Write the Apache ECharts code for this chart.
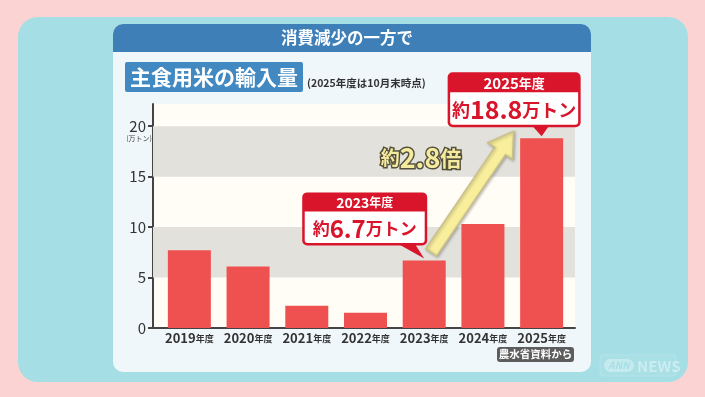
<!DOCTYPE html>
<html><head><meta charset="utf-8">
<script src="https://cdn.jsdelivr.net/npm/echarts@6/dist/echarts.min.js"></script>
<style>html,body{margin:0;padding:0;background:#fcd3d3;}#c{width:705px;height:397px;}</style>
</head><body><div id="c"></div>
<script>
const categories = ['2019','2020','2021','2022','2023','2024','2025'];
const values = [7.7, 6.1, 2.2, 1.5, 6.7, 10.3, 18.8];
const yTicks = [0, 5, 10, 15, 20];
const bands = [[5, 10], [15, 20]];
const headerTitle = '消費減少の一方で';
const chartTitle = '主食用米の輸入量';
const subTitle = '(2025年度は10月末時点)';
const unitLabel = '(万トン)';
const sourceText = '農水省資料から';
const callouts = [
  {year: '2023', value: 6.7, head: '2023年度', num: '6.7'},
  {year: '2025', value: 18.8, head: '2025年度', num: '18.8'}
];
const ratioText = '2.8';

const FONT = '"Noto Sans CJK JP","Noto Sans",sans-serif';
const YMAX = 22.2;
const chart = echarts.init(document.getElementById('c'), null, {renderer: 'canvas'});

const baseGraphic = [
  {type: 'rect', z: -10, shape: {x: 0, y: 0, width: 705, height: 397}, style: {fill: '#fcd3d3'}},
  {type: 'rect', z: -9, shape: {x: 18, y: 17, width: 670, height: 365, r: 20}, style: {fill: '#a5dfe5'}},
  {type: 'rect', z: -8, shape: {x: 113, y: 24, width: 478, height: 348, r: 10}, style: {fill: '#eff7fa'}},
  {type: 'rect', z: -7, shape: {x: 113, y: 24, width: 478, height: 28, r: [10, 10, 0, 0]}, style: {fill: '#3e7fb8'}},
  {type: 'text', z: -6, style: {x: 347, y: 38, text: headerTitle, fill: '#fff', font: 'bold 16.5px ' + FONT, align: 'center', verticalAlign: 'middle'}},
  {type: 'rect', z: -6, shape: {x: 125, y: 62, width: 178, height: 30, r: 2}, style: {fill: '#4289c2'}},
  {type: 'text', z: -5, style: {x: 214, y: 77, text: chartTitle, fill: '#fff', font: 'bold 21px ' + FONT, align: 'center', verticalAlign: 'middle'}},
  {type: 'text', z: -5, style: {x: 307, y: 83, text: subTitle, fill: '#333', font: 'bold 10.5px ' + FONT, align: 'left', verticalAlign: 'middle'}},
  {type: 'text', z: 5, style: {x: 139, y: 138, text: unitLabel, fill: '#444', font: '7px ' + FONT, align: 'center', verticalAlign: 'middle'}},
  {type: 'rect', z: 5, shape: {x: 497, y: 347, width: 77, height: 15, r: 3}, style: {fill: '#5d5d5d'}},
  {type: 'text', z: 6, style: {x: 535.5, y: 354.5, text: sourceText, fill: '#fff', font: 'bold 10.5px ' + FONT, align: 'center', verticalAlign: 'middle'}},
  {type: 'rect', z: 5, shape: {x: 600, y: 355, width: 76, height: 21, r: 4}, style: {fill: 'rgba(255,255,255,0.04)', stroke: 'rgba(255,255,255,0.18)', lineWidth: 1}},
  {type: 'rect', z: 5, shape: {x: 604, y: 359, width: 30, height: 13, r: 6.5}, style: {fill: 'rgba(255,255,255,0.35)'}},
  {type: 'text', z: 6, style: {x: 619, y: 365.5, text: 'ANN', fill: '#a5dfe5', font: 'italic bold 10px ' + FONT, align: 'center', verticalAlign: 'middle'}},
  {type: 'text', z: 6, style: {x: 637, y: 366, text: 'NEWS', fill: 'rgba(255,255,255,0.4)', font: 'bold 15px ' + FONT, align: 'left', verticalAlign: 'middle'}}
];

const option = {
  animation: false,
  backgroundColor: 'transparent',
  grid: [
    {left: 160, right: 134, top: 104, bottom: 69},
    {left: 153, right: 130, top: 104, bottom: 69, show: true, backgroundColor: '#fffdf5', borderWidth: 0}
  ],
  xAxis: [
    {
      type: 'category', data: categories, gridIndex: 0,
      axisLine: {show: false}, axisTick: {show: false},
      axisLabel: {
        interval: 0, margin: 4,
        formatter: v => '{a|' + v + '}{b|年度}',
        rich: {
          a: {fontSize: 13, fontWeight: 'bold', color: '#333', fontFamily: FONT},
          b: {fontSize: 9, fontWeight: 'bold', color: '#333', fontFamily: FONT}
        }
      }
    },
    {
      type: 'value', gridIndex: 1, min: 0, max: 1,
      axisLine: {show: true, onZero: false, lineStyle: {color: '#444', width: 2}},
      axisTick: {show: false}, axisLabel: {show: false}, splitLine: {show: false}
    }
  ],
  yAxis: [
    {type: 'value', gridIndex: 0, min: 0, max: YMAX, show: false, splitLine: {show: false}},
    {
      type: 'value', gridIndex: 1, min: 0, max: YMAX,
      splitLine: {show: false},
      axisLine: {show: true, lineStyle: {color: '#444', width: 2}},
      axisTick: {show: true, length: 5, lineStyle: {color: '#444', width: 2}, customValues: yTicks},
      axisLabel: {customValues: yTicks, margin: 7, fontSize: 15, color: '#333', fontFamily: FONT}
    }
  ],
  series: [
    {type: 'line', data: [], xAxisIndex: 1, yAxisIndex: 1, z: 1, silent: true,
      markArea: {silent: true, itemStyle: {color: '#e2e1dc'},
        data: bands.map(b => [{yAxis: b[0]}, {yAxis: b[1]}])}},
    {type: 'bar', data: values, xAxisIndex: 0, yAxisIndex: 0, barWidth: 43, z: 3, itemStyle: {color: '#ef5150'}}
  ],
  graphic: baseGraphic
};
chart.setOption(option);

function calloutGraphic(c, dx, dy, w, h, headH, tipOffX) {
  const tip = chart.convertToPixel({xAxisIndex: 0, yAxisIndex: 0}, [c.year, c.value]);
  const tx = tip[0], ty = tip[1] - 2;
  const left = tx + dx, top = ty + dy;
  const bx = left + w + tipOffX;
  const red = '#d8152b';
  const big = h > 54;
  return [
    {type: 'polygon', z: 20, shape: {points: [[bx - 8, top + h - 1], [bx + 8, top + h - 1], [tx, ty]]}, style: {fill: red}},
    {type: 'rect', z: 21, shape: {x: left, y: top, width: w, height: h, r: 5}, style: {fill: red}},
    {type: 'rect', z: 22, shape: {x: left + 2.5, y: top + headH, width: w - 5, height: h - headH - 2.5, r: [0, 0, 3, 3]}, style: {fill: '#fff'}},
    {type: 'text', z: 23, style: {x: left + w / 2, y: top + headH / 2 + 0.5, text: '{n|' + c.head.slice(0, 4) + '}{k|年度}', align: 'center', verticalAlign: 'middle',
      rich: {n: {fontSize: big ? 15 : 14, fontWeight: 'bold', fill: '#fff', fontFamily: FONT}, k: {fontSize: big ? 13 : 12, fontWeight: 'bold', fill: '#fff', fontFamily: FONT}}}},
    {type: 'text', z: 23, style: {x: left + w / 2, y: top + headH + (h - headH) / 2, text: '{s|約}{b|' + c.num + '}{s|万トン}', align: 'center', verticalAlign: 'middle',
      rich: {s: {fontSize: big ? 18 : 17, fontWeight: 'bold', fill: red, fontFamily: FONT}, b: {fontSize: big ? 25 : 24, fontWeight: 'bold', fill: red, fontFamily: FONT}}}}
  ];
}

const g2023 = calloutGraphic(callouts[0], -122, -66, 125, 53, 19, -20);
const g2025 = calloutGraphic(callouts[1], -94, -64, 133, 55, 20, -40);

const p23 = chart.convertToPixel({xAxisIndex: 0, yAxisIndex: 0}, ['2023', 6.7]);
const p25 = chart.convertToPixel({xAxisIndex: 0, yAxisIndex: 0}, ['2025', 18.8]);
const A = [p23[0] + 7, p23[1] - 8], B = [p25[0] - 28, p25[1] - 7];
const vx = B[0] - A[0], vy = B[1] - A[1], L = Math.hypot(vx, vy);
const ux = vx / L, uy = vy / L, nx = -uy, ny = ux;
const sw = 6.5, hw = 15, hl = 24;
const H = [B[0] - ux * hl, B[1] - uy * hl];
const arrowPts = [
  [A[0] + nx * sw, A[1] + ny * sw], [H[0] + nx * sw, H[1] + ny * sw], [H[0] + nx * hw, H[1] + ny * hw], B,
  [H[0] - nx * hw, H[1] - ny * hw], [H[0] - nx * sw, H[1] - ny * sw], [A[0] - nx * sw, A[1] - ny * sw]
];
const arrow = {type: 'polygon', z: 18, shape: {points: arrowPts},
  style: {fill: '#f8ee9c', stroke: '#c9c08a', lineWidth: 1.5, shadowColor: 'rgba(0,0,0,0.25)', shadowBlur: 3, shadowOffsetX: 1, shadowOffsetY: 1}};
const ratio = {type: 'text', z: 19, style: {x: 421, y: 158, text: '{s|約}{b|' + ratioText + '}{t|倍}', align: 'center', verticalAlign: 'middle',
  rich: {
    s: {fontSize: 19, fontWeight: 'bold', fill: '#f5eb9e', stroke: '#55503a', lineWidth: 3, fontFamily: FONT},
    b: {fontSize: 27, fontWeight: 'bold', fill: '#f5eb9e', stroke: '#55503a', lineWidth: 3, fontFamily: FONT},
    t: {fontSize: 21, fontWeight: 'bold', fill: '#f5eb9e', stroke: '#55503a', lineWidth: 3, fontFamily: FONT}
  }}};

chart.setOption({graphic: baseGraphic.concat(g2023, g2025, [arrow, ratio])}, {replaceMerge: ['graphic']});
</script>
</body></html>
